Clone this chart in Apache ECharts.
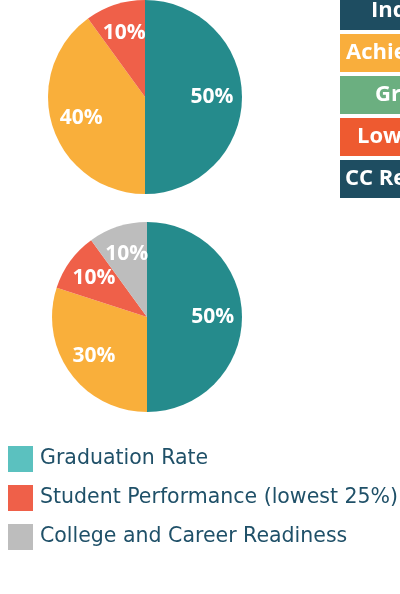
<!DOCTYPE html>
<html>
<head>
<meta charset="utf-8">
<style>
html,body{margin:0;padding:0;background:#fff;}
#c{width:400px;height:594px;}
</style>
<script src="https://cdn.jsdelivr.net/npm/echarts@6/dist/echarts.min.js"></script>
</head>
<body>
<div id="c"></div>
<script>
// Data
const pie1Names = ["Graduation Rate", "Achievement", "Student Performance (lowest 25%)"];
const pie1Values = [50, 40, 10];
const pie2Names = ["Graduation Rate", "Achievement", "Student Performance (lowest 25%)", "College and Career Readiness"];
const pie2Values = [50, 30, 10, 10];
const legendNames = ["Graduation Rate", "Student Performance (lowest 25%)", "College and Career Readiness"];
const boxLabels = ["Indicator", "Achievement", "Growth", "Lowest 25%", "CC Readiness"];

const sliceColors = {
  "Graduation Rate": "#258B8C",
  "Achievement": "#F9AF3B",
  "Student Performance (lowest 25%)": "#EF6049",
  "College and Career Readiness": "#BDBDBD"
};
const legendColors = {
  "Graduation Rate": "#5BC1BF",
  "Student Performance (lowest 25%)": "#EF6049",
  "College and Career Readiness": "#BDBDBD"
};
const boxColors = ["#1E4D61", "#F9AE3C", "#6BAF80", "#EE5A30", "#1E4D61"];
const boxX = [340, 340, 340, 340, 340];
const boxTextX = [371, 346, 375, 357, 345];

function makeData(names, values) {
  return names.map((n, i) => ({ name: n, value: values[i], itemStyle: { color: sliceColors[n] } }));
}

const labelStyle = {
  show: true, position: 'inside', formatter: '{c}%',
  color: '#fff', fontSize: 21, fontWeight: 'bold', fontFamily: 'Open Sans'
};

function pieSeries(names, values, center, r) {
  return [
    {
      type: 'pie', center: center, radius: [0, r], startAngle: 90, clockwise: true,
      silent: true, animation: false, label: { show: false }, labelLine: { show: false },
      data: makeData(names, values)
    },
    {
      type: 'pie', center: center, radius: [r * 0.32, r], startAngle: 90, clockwise: true,
      silent: true, animation: false, label: labelStyle, labelLine: { show: false },
      itemStyle: { color: 'rgba(0,0,0,0)' },
      data: names.map((n, i) => ({ name: n + ' ', value: values[i], itemStyle: { color: 'rgba(0,0,0,0)' } }))
    }
  ];
}

const graphics = [];
boxColors.forEach((c, i) => {
  const top = -8 + i * 42;
  graphics.push({ type: 'rect', shape: { x: boxX[i], y: top, width: 120, height: 38 }, style: { fill: c }, silent: true });
  graphics.push({ type: 'text', x: boxTextX[i], y: top + 19, style: { text: boxLabels[i], fill: '#fff', font: 'bold 22px "Open Sans"', verticalAlign: 'middle', align: 'left' }, silent: true });
});

const chart = echarts.init(document.getElementById('c'), null, { renderer: 'canvas' });
chart.setOption({
  backgroundColor: '#fff',
  animation: false,
  legend: {
    orient: 'vertical', left: 8, top: 446, padding: 0,
    itemWidth: 25, itemHeight: 26, itemGap: 13, icon: 'rect', selectedMode: false,
    textStyle: { color: '#1F5068', fontSize: 20.5, fontFamily: 'DejaVu Sans', padding: [0, 0, 0, 2] },
    data: legendNames.map(n => ({ name: n, itemStyle: { color: legendColors[n] } }))
  },
  graphic: graphics,
  series: [
    ...pieSeries(pie1Names, pie1Values, [145, 97], 97),
    ...pieSeries(pie2Names, pie2Values, [147, 317], 95)
  ]
});
</script>
</body>
</html>
